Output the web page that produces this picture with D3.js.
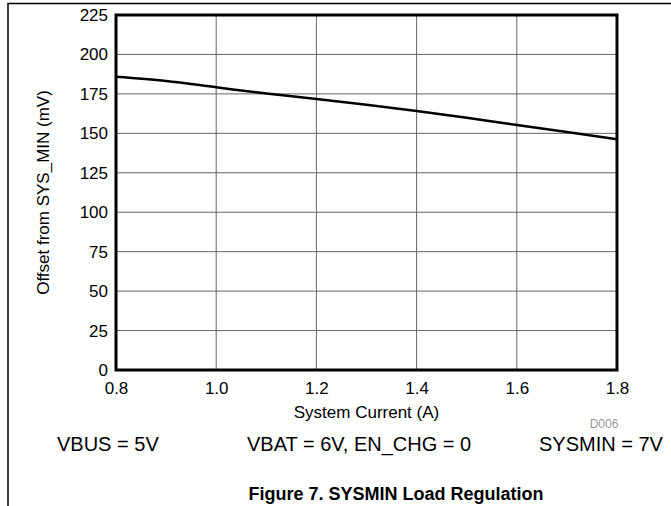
<!DOCTYPE html>
<html>
<head>
<meta charset="utf-8">
<script src="https://cdn.jsdelivr.net/npm/d3@7"></script>
<style>
  body { margin: 0; background: #fff; }
  svg { display: block; font-family: Arial, "Liberation Sans", sans-serif; }
</style>
</head>
<body>
<svg id="chart" width="671" height="506"></svg>
<script>
// data
const current = [0.8, 0.9, 1.0, 1.1, 1.2, 1.3, 1.4, 1.5, 1.6, 1.7, 1.8];
const offset = [185.8, 183.2, 179.2, 175.2, 171.8, 168.1, 164.2, 159.9, 155.3, 150.8, 146.2];
const xTicks = [0.8, 1.0, 1.2, 1.4, 1.6, 1.8];
const yTicks = [0, 25, 50, 75, 100, 125, 150, 175, 200, 225];
const conditions = ["VBUS = 5V", "VBAT = 6V, EN_CHG = 0", "SYSMIN = 7V"];

const svg = d3.select("#chart");
const plot = { left: 116, right: 617, top: 15, bottom: 370 };

const x = d3.scaleLinear().domain([0.8, 1.8]).range([plot.left, plot.right]);
const y = d3.scaleLinear().domain([0, 225]).range([plot.bottom, plot.top]);

// outer frame (top + left only)
svg.append("path")
  .attr("d", "M8,506 V3.5 H671")
  .attr("fill", "none")
  .attr("stroke", "#000")
  .attr("stroke-width", 1.5);

// gridlines
const grid = svg.append("g").attr("stroke", "#666").attr("stroke-width", 1);
grid.selectAll("line.v")
  .data(xTicks.slice(1, -1))
  .enter().append("line")
  .attr("x1", d => x(d)).attr("x2", d => x(d))
  .attr("y1", plot.top).attr("y2", plot.bottom);
grid.selectAll("line.h")
  .data(yTicks.slice(1, -1))
  .enter().append("line")
  .attr("x1", plot.left).attr("x2", plot.right)
  .attr("y1", d => y(d)).attr("y2", d => y(d));

// tick labels
const xAxis = svg.append("g")
  .attr("transform", `translate(0, ${plot.bottom + 12})`)
  .call(d3.axisBottom(x).tickValues(xTicks).tickFormat(d3.format(".1f")).tickSize(0).tickPadding(0));
xAxis.select(".domain").remove();
xAxis.selectAll("text").attr("font-size", 17).attr("font-family", "Arial, 'Liberation Sans', sans-serif").attr("fill", "#000");

const yAxis = svg.append("g")
  .attr("transform", `translate(${plot.left - 8}, 0)`)
  .call(d3.axisLeft(y).tickValues(yTicks).tickSize(0).tickPadding(0));
yAxis.select(".domain").remove();
yAxis.selectAll("text").attr("font-size", 17).attr("font-family", "Arial, 'Liberation Sans', sans-serif").attr("fill", "#000");

// curve
const line = d3.line()
  .x((d, i) => x(current[i]))
  .y(d => y(d))
  .curve(d3.curveMonotoneX);
svg.append("path")
  .datum(offset)
  .attr("d", line)
  .attr("fill", "none")
  .attr("stroke", "#000")
  .attr("stroke-width", 2.5);

// plot border
svg.append("rect")
  .attr("x", plot.left).attr("y", plot.top)
  .attr("width", plot.right - plot.left).attr("height", plot.bottom - plot.top)
  .attr("fill", "none")
  .attr("stroke", "#000")
  .attr("stroke-width", 3);

// axis titles
svg.append("text")
  .attr("x", (plot.left + plot.right) / 2)
  .attr("y", 418)
  .attr("text-anchor", "middle")
  .attr("font-size", 17)
  .text("System Current (A)");

svg.append("text")
  .attr("transform", `translate(49, ${(plot.top + plot.bottom) / 2}) rotate(-90)`)
  .attr("text-anchor", "middle")
  .attr("font-size", 17)
  .text("Offset from SYS_MIN (mV)");

svg.append("text")
  .attr("x", 604)
  .attr("y", 428)
  .attr("text-anchor", "middle")
  .attr("font-size", 12)
  .attr("fill", "#999")
  .text("D006");

// test conditions
const condX = [57, 247, 539];
svg.selectAll("text.cond")
  .data(conditions)
  .enter().append("text")
  .attr("class", "cond")
  .attr("x", (d, i) => condX[i])
  .attr("y", 451)
  .attr("font-size", 20)
  .text(d => d);

// caption
svg.append("text")
  .attr("x", 396)
  .attr("y", 500)
  .attr("text-anchor", "middle")
  .attr("font-size", 18)
  .attr("font-weight", "bold")
  .text("Figure 7. SYSMIN Load Regulation");
</script>
</body>
</html>
